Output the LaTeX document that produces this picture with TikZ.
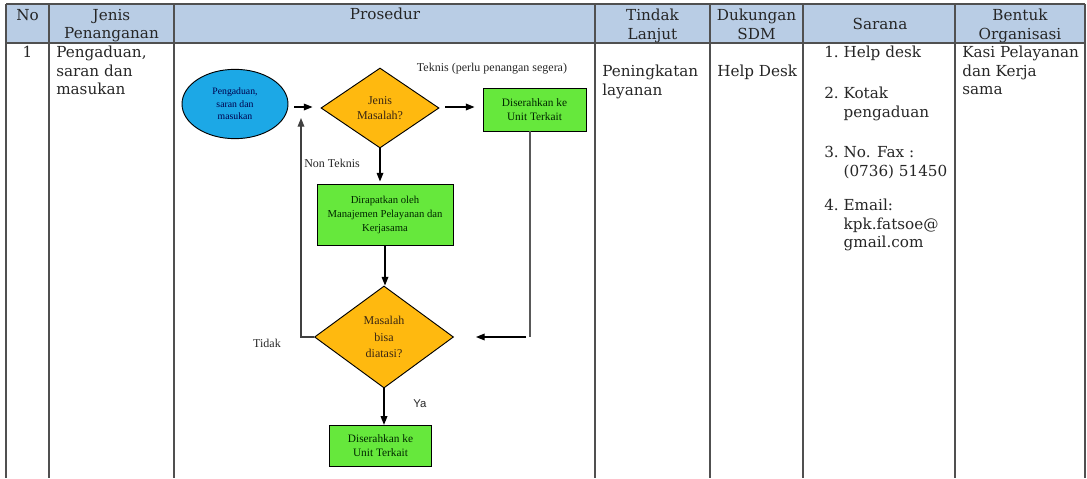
\documentclass[tikz,border=0pt]{standalone}
\usepackage{fontspec}
\setmainfont{Liberation Serif}
\newfontfamily\sansf{Liberation Sans}
\newfontfamily\tblf{DejaVu Serif}
\usetikzlibrary{shapes.geometric,arrows.meta}
\newcommand\tbl{\tblf\fontsize{11.4}{13.9}\selectfont}
\definecolor{hdr}{HTML}{B9CDE5}
\definecolor{tline}{HTML}{505050}
\definecolor{fcblue}{HTML}{1CA8E6}
\definecolor{fcorange}{HTML}{FFB90F}
\definecolor{fcgreen}{HTML}{66E83C}
\tikzset{
  tl/.style={draw=tline,line width=1.1pt},
  tt/.style={inner sep=0pt,font=\tbl,text=black!85},
  hd/.style={tt,align=center,anchor=north},
  bd/.style={tt,align=left,anchor=north west},
  fcell/.style={ellipse,draw=black,line width=0.7pt,fill=fcblue,inner sep=0pt,
    minimum width=79.5pt,minimum height=52pt,align=center,text=blue!30!black,
    font=\fontsize{7.3}{9.5}\selectfont},
  fcdia/.style={diamond,draw=black,line width=0.7pt,fill=fcorange,inner sep=0pt,
    align=center,text=black!70!brown,font=\fontsize{9}{11.25}\selectfont},
  fcbox/.style={rectangle,draw=black,line width=0.7pt,fill=fcgreen,inner sep=0pt,
    align=center,text=green!15!black,font=\fontsize{8.5}{10}\selectfont},
  lbl/.style={inner sep=0pt,text=black!85,font=\fontsize{9}{11}\selectfont},
  arr/.style={draw=black,line width=0.9pt,-{Triangle[length=6.5pt,width=5pt]}},
  gln/.style={draw=black!65,line width=0.8pt},
}
\begin{document}
\begin{tikzpicture}[x=0.75pt,y=-0.75pt]
\path[use as bounding box] (0,0) rectangle (1087,478);
% table
\fill[hdr] (6,4) rectangle (1085,43);
\draw[tl] (6,4) -- (1085,4);
\draw[tl] (6,43) -- (1085,43);
\foreach \xx in {6,49,174,595,710,803,955,1085}{\draw[tl] (\xx,4) -- (\xx,478);}
% headers
\node[hd] (hNo) at (27.5,9) {No};
\node[hd] (hJenis) at (111.5,9) {Jenis\\Penanganan};
\node[hd] (hPros) at (385,8) {Prosedur};
\node[hd] (hTindak) at (652.5,9) {Tindak\\Lanjut};
\node[hd] (hDuk) at (756.5,9) {Dukungan\\SDM};
\node[hd] (hSar) at (880,18) {Sarana};
\node[hd] (hBentuk) at (1020,9) {Bentuk\\Organisasi};
% body
\node[hd] (bNo) at (27.5,46) {1};
\node[bd] (bJenis) at (56,46) {Pengaduan,\\saran dan\\masukan};
\node[bd] (bTindak) at (602,65) {Peningkatan\\layanan};
\node[bd] (bDuk) at (717,65) {Help Desk};
\node[bd] (s1) at (824,46) {1.~Help desk};
\node[bd] (s2) at (824,87) {2.~Kotak\\\hphantom{2.~}pengaduan};
\node[bd] (s3) at (824,146) {3.~No. Fax :\\\hphantom{3.~}(0736) 51450};
\node[bd] (s4) at (824,199) {4.~Email:\\\hphantom{4.~}kpk.fatsoe@\\\hphantom{4.~}gmail.com};
\node[bd] (bBentuk) at (962,46) {Kasi Pelayanan\\dan Kerja\\sama};
% flowchart
\node[fcell] (e) at (235,104) {Pengaduan,\\saran dan\\masukan};
\node[fcdia,minimum width=88.5pt,minimum height=60pt] (d1) at (380,108) {Jenis\\Masalah?};
\node[fcbox,minimum width=77.25pt,minimum height=32.25pt] (b1) at (534.5,109.5) {Diserahkan ke\\Unit Terkait};
\node[fcbox,minimum width=102pt,minimum height=45.75pt,font=\fontsize{8}{10.5}\selectfont] (b2) at (385,214.5) {Dirapatkan oleh\\Manajemen Pelayanan dan\\Kerjasama};
\node[fcdia,minimum width=104.25pt,minimum height=76.5pt,font=\fontsize{9}{12.4}\selectfont] (d2) at (384,337) {Masalah\\bisa\\diatasi?};
\node[fcbox,minimum width=77pt,minimum height=31pt,font=\fontsize{8.5}{10.5}\selectfont] (b3) at (380.5,446) {Diserahkan ke\\Unit Terkait};
\node[lbl] (lTek) at (492,69) {Teknis (perlu penangan segera)};
\node[lbl] (lNon) at (332,163) {Non Teknis};
\node[lbl] (lTid) at (267,343) {Tidak};
\node[lbl,font=\sansf\fontsize{8.5}{10}\selectfont] (lYa) at (420,404) {Ya};
\coordinate (jn) at (301,107);
\coordinate (rc) at (530,337);
\draw[arr,shorten <=4.5pt,shorten >=6pt] (e.east |- jn) -- (d1.west |- jn);
\draw[arr,shorten <=4.5pt,shorten >=6pt] (d1.east |- jn) -- (b1.west |- jn);
\draw[arr,shorten >=1.5pt] (d1.south) -- (d1.south |- b2.north);
\draw[arr] (b2.south) -- (b2.south |- d2.north);
\draw[arr] (d2.south) -- (d2.south |- b3.north);
\draw[gln] (rc |- b1.south) -- (rc);
\draw[arr,shorten <=3pt,shorten >=16.5pt] (rc) -- (d2.east);
\draw[arr,draw=black!75,shorten >=8.25pt] (d2.west) -| (jn);
\end{tikzpicture}
\end{document}
